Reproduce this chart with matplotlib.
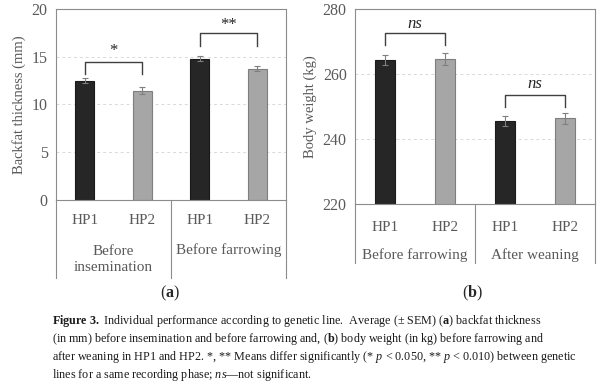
import matplotlib.pyplot as plt
import numpy as np
from matplotlib.transforms import blended_transform_factory

plt.rcParams['font.family'] = ['Liberation Serif', 'DejaVu Serif']
plt.rcParams['mathtext.fontset'] = 'custom'
plt.rcParams['mathtext.rm'] = 'Liberation Serif'
plt.rcParams['mathtext.it'] = 'Liberation Serif:italic'
plt.rcParams['mathtext.bf'] = 'Liberation Serif:bold'

# (a) backfat thickness, mm
lines = ['HP1', 'HP2', 'HP1', 'HP2']
bf_groups = ['Before\ninsemination', 'Before farrowing']
bf_mean = [12.5, 11.45, 14.8, 13.75]
bf_sem = [0.3, 0.35, 0.25, 0.25]
bf_sig = ['*', '**']

# (b) body weight, kg
bw_groups = ['Before farrowing', 'After weaning']
bw_mean = [264.2, 264.6, 245.6, 246.4]
bw_sem = [1.5, 1.8, 1.5, 1.7]
bw_sig = ['ns', 'ns']

txt = '#595959'
edge = '#8c8c8c'
cols = ['#262626', '#a6a6a6', '#262626', '#a6a6a6']

fig = plt.figure(figsize=(6, 3.84), dpi=100)


def panel(rect, means, sems, groups, sig, ylim, ticks, ylabel,
          br, hp_y, grp_y, line_bot, italic):
    ax = fig.add_axes(rect)
    x = np.arange(len(means))
    ax.bar(x, means, width=0.33, color=cols, edgecolor=['#1a1a1a', '#7f7f7f'] * 2,
           linewidth=0.8, zorder=2)
    ax.errorbar(x, means, yerr=sems, fmt='none', ecolor='#7f7f7f',
                elinewidth=0.8, capsize=2, capthick=0.8, zorder=3)
    ax.set_xlim(-0.5, len(means) - 0.5)
    ax.set_ylim(*ylim)
    ax.set_yticks(ticks)
    ax.yaxis.grid(True, linestyle=(0, (3, 3)), color='#d9d9d9', linewidth=0.7)
    ax.set_axisbelow(True)
    ax.tick_params(axis='y', length=0, colors=txt, labelsize=11.5, pad=6)
    ax.set_xticks([])
    for s in ax.spines.values():
        s.set_color(edge)
        s.set_linewidth(0.8)
    ax.set_ylabel(ylabel, color=txt, fontsize=10.5, labelpad=4)

    # category table under the axis
    tr = blended_transform_factory(ax.transData, ax.transAxes)
    for xi, lab in zip(x, lines):
        ax.text(xi, hp_y, lab, transform=tr, ha='center', va='center',
                color=txt, fontsize=11)
    for gi, g in enumerate(groups):
        ax.text(2 * gi + 0.5, grp_y[gi], g, transform=tr, ha='center', va='center',
                color=txt, fontsize=11, linespacing=1.3)
    for xv in [-0.5, 1.5, 3.5]:
        ax.plot([xv, xv], [0, line_bot], transform=tr, color=edge,
                linewidth=0.8, clip_on=False)

    # significance brackets
    for gi, (top, leg, lab_y) in enumerate(br):
        x0, x1 = 2 * gi, 2 * gi + 1
        ax.plot([x0, x0, x1, x1], [leg, top, top, leg], color='#404040',
                linewidth=1.0, solid_joinstyle='round', zorder=4)
        ax.text(x0 + 0.5, lab_y, sig[gi], ha='center', va='center',
                color='#262626', fontsize=12, style='italic' if italic else 'normal')
    return ax


panel([0.0933, 0.4792, 0.3834, 0.4974], bf_mean, bf_sem, bf_groups, bf_sig,
      (0, 20), [0, 5, 10, 15, 20], 'Backfat thickness (mm)',
      [(14.5, 13.2, 15.6), (17.5, 16.1, 18.3)],
      -0.105, [-0.314, -0.262], -0.408, False)

panel([0.5917, 0.46875, 0.4, 0.5078], bw_mean, bw_sem, bw_groups, bw_sig,
      (220, 280), [220, 240, 260, 280], 'Body weight (kg)',
      [(272.5, 269.0, 275.5), (253.5, 250.0, 257.0)],
      -0.118, [-0.262, -0.262], -0.303, True)

fig.text(170 / 600, 1 - 293 / 384, r'($\bf{a}$)', ha='center', va='center',
         fontsize=11.5, color='#262626')
fig.text(472 / 600, 1 - 293 / 384, r'($\bf{b}$)', ha='center', va='center',
         fontsize=11.5, color='#262626')

caption = [
    r'$\bf{Figure\ 3.}$ Individual performance according to genetic line.  Average (± SEM) ($\bf{a}$) backfat thickness',
    r'(in mm) before insemination and before farrowing and, ($\bf{b}$) body weight (in kg) before farrowing and',
    r'after weaning in HP1 and HP2. *, ** Means differ significantly (* $p$ < 0.050, ** $p$ < 0.010) between genetic',
    r'lines for a same recording phase; $ns$—not significant.',
]
for i, line in enumerate(caption):
    fig.text(52 / 600, 1 - (321 + 18 * i) / 384, line, ha='left', va='center',
             fontsize=8.7, color='#1a1a1a')

fig.savefig('out.png', dpi=100)
